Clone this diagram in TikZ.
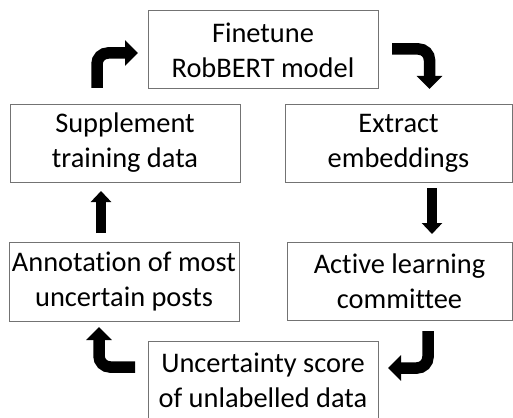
\documentclass[tikz,border=0pt]{standalone}
\usepackage{fontspec}
\setmainfont{Carlito}[Ligatures=NoCommon]
\usetikzlibrary{arrows.meta}

\begin{document}
\begin{tikzpicture}[x=1pt, y=-1pt,
    every node/.style={draw=black!55, line width=1pt, align=center, inner sep=0pt,
        font=\fontsize{28.4}{35}\selectfont},
    turn/.style={line width=11.5pt, rounded corners=11pt, -{Triangle[width=25pt, length=13pt]}},
    straight/.style={line width=10pt, -{Triangle[width=20pt, length=11pt]}}]

            \clip (0,0) rectangle (513,417);

            % the six steps of the loop
            \node[minimum width=230pt, minimum height=78pt] (ft) at (263,50) {Finetune\\RobBERT model};
            \node[minimum width=230pt, minimum height=78pt] (supp) at (125,143) {Supplement\\training data};
            \node[minimum width=227pt, minimum height=78pt] (extr) at (398.5,143) {Extract\\embeddings};
            \node[minimum width=230pt, minimum height=79pt] (annot) at (124,281.5) {Annotation of most\\uncertain posts};
            \node[minimum width=225pt, minimum height=78pt] (active) at (399.5,281) {Active learning\\committee};
            \node[minimum width=230pt, minimum height=79pt] (unc) at (263,380.5) {Uncertainty score\\of unlabelled data};

            % arrow ends between the boxes
            \coordinate (a1) at (97,88);   \coordinate (b1) at (138,53);
            \coordinate (a2) at (392,49);  \coordinate (b2) at (429.5,89);
            \coordinate (a3) at (432,188); \coordinate (b3) at (432,234);
            \coordinate (a4) at (428,331); \coordinate (b4) at (388,368);
            \coordinate (a5) at (135,367); \coordinate (b5) at (99,327);
            \coordinate (a6) at (101,233); \coordinate (b6) at (101,191);

            \draw[turn] (a1) |- (b1);
            \draw[turn] (a2) -| (b2);
            \draw[straight] (a3) -- (b3);
            \draw[turn] (a4) |- (b4);
            \draw[turn] (a5) -| (b5);
            \draw[straight] (a6) -- (b6);

            \end{tikzpicture}
\end{document}
